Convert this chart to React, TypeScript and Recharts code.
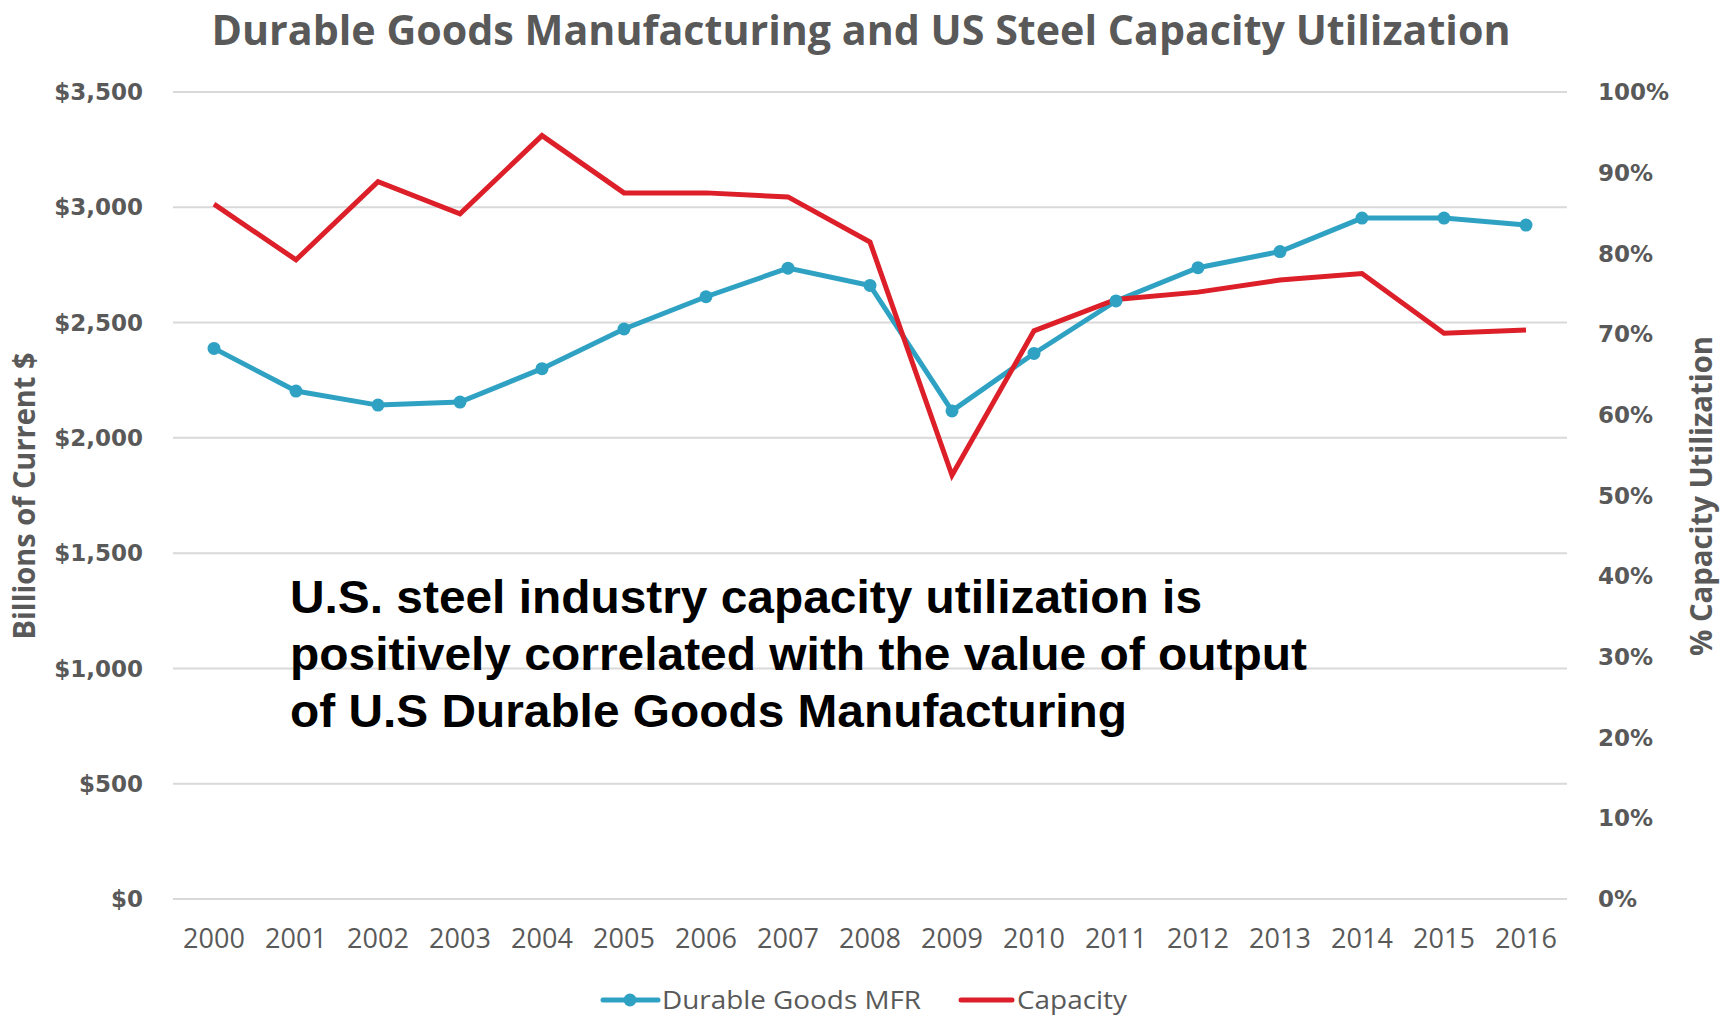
import { CartesianGrid, Line, LineChart, XAxis, YAxis } from 'recharts';

const years = ['2000', '2001', '2002', '2003', '2004', '2005', '2006', '2007', '2008', '2009', '2010', '2011', '2012', '2013', '2014', '2015', '2016'];
// billions of current dollars
const durableGoods = [2388, 2203, 2142, 2155, 2300, 2472, 2612, 2736, 2661, 2117, 2366, 2594, 2738, 2808, 2953, 2953, 2923];
// % capacity utilization
const capacity = [86.1, 79.2, 88.9, 84.9, 94.6, 87.5, 87.5, 87.0, 81.4, 52.5, 70.4, 74.3, 75.2, 76.7, 77.5, 70.1, 70.5];

const dollarTicks = [0, 500, 1000, 1500, 2000, 2500, 3000, 3500];
const percentTicks = [0, 10, 20, 30, 40, 50, 60, 70, 80, 90, 100];

const noteLines = [
  'U.S. steel industry capacity utilization is',
  'positively correlated with the value of output',
  'of U.S Durable Goods Manufacturing',
];

const data = years.map((year, i) => ({ year, durable: durableGoods[i], capacity: capacity[i] }));

const BLUE = '#2FA2C3';
const RED = '#DC1F28';
const GRAY = '#595959';

const tickStyle = { fill: GRAY, fontSize: 23, fontWeight: 700, fontFamily: 'DejaVu Sans' };

export default function App() {
  return (
    <div style={{ position: 'absolute', left: 0, top: 0, width: 1729, height: 1017, background: '#fff' }}>
      <LineChart width={1729} height={1017} data={data} margin={{ top: 92, right: 0, bottom: 0, left: 0 }}>
        <CartesianGrid yAxisId="left" vertical={false} stroke="#D9D9D9" strokeWidth={2} />
        <XAxis
          dataKey="year"
          height={118}
          padding={{ left: 41, right: 41 }}
          tickLine={false}
          axisLine={{ stroke: '#D9D9D9', strokeWidth: 2 }}
          tickSize={0}
          tickMargin={30}
          interval={0}
          tick={{ fill: GRAY, fontSize: 27, fontFamily: 'Open Sans' }}
        />
        <YAxis
          yAxisId="left"
          width={173}
          domain={[0, 3500]}
          ticks={dollarTicks}
          tickFormatter={(v: number) => `$${v.toLocaleString('en-US')}`}
          axisLine={false}
          tickLine={false}
          tickSize={0}
          tickMargin={30}
          tick={tickStyle}
        />
        <YAxis
          yAxisId="right"
          orientation="right"
          width={162}
          domain={[0, 100]}
          ticks={percentTicks}
          tickFormatter={(v: number) => `${v}%`}
          axisLine={false}
          tickLine={false}
          tickSize={0}
          tickMargin={31}
          tick={tickStyle}
        />
        <Line
          yAxisId="left"
          dataKey="durable"
          name="Durable Goods MFR"
          stroke={BLUE}
          strokeWidth={5}
          dot={{ r: 6.5, fill: BLUE, stroke: BLUE, strokeWidth: 0 }}
          isAnimationActive={false}
        />
        <Line
          yAxisId="right"
          dataKey="capacity"
          name="Capacity"
          stroke={RED}
          strokeWidth={5}
          dot={false}
          isAnimationActive={false}
        />
      </LineChart>

      <svg width={1729} height={1017} style={{ position: 'absolute', left: 0, top: 0, pointerEvents: 'none' }}>
        <text x={861} y={45} textAnchor="middle" fill={GRAY} fontFamily="Open Sans" fontWeight={700} fontSize={42}
          textLength={1299} lengthAdjust="spacingAndGlyphs">
          Durable Goods Manufacturing and US Steel Capacity Utilization
        </text>

        <text transform="translate(35 496) rotate(-90)" textAnchor="middle" fill={GRAY} fontFamily="Open Sans"
          fontWeight={700} fontSize={30} textLength={287} lengthAdjust="spacingAndGlyphs">
          Billions of Current $
        </text>
        <text transform="translate(1712 496) rotate(-90)" textAnchor="middle" fill={GRAY} fontFamily="Open Sans"
          fontWeight={700} fontSize={30} textLength={320} lengthAdjust="spacingAndGlyphs">
          % Capacity Utilization
        </text>

        {noteLines.map((line, i) => (
          <text key={line} x={290} y={613 + i * 57} fill="#000" fontFamily="Liberation Sans" fontWeight={700}
            fontSize={47} textLength={[912, 1017, 837][i]} lengthAdjust="spacingAndGlyphs">
            {line}
          </text>
        ))}

        <line x1={603} x2={658} y1={1000} y2={1000} stroke={BLUE} strokeWidth={5} strokeLinecap="round" />
        <circle cx={630} cy={1000} r={6.5} fill={BLUE} />
        <text x={662} y={1009} fill={GRAY} fontFamily="Open Sans" fontSize={26} textLength={259} lengthAdjust="spacingAndGlyphs">
          Durable Goods MFR
        </text>
        <line x1={961} x2={1012} y1={1000} y2={1000} stroke={RED} strokeWidth={5} strokeLinecap="round" />
        <text x={1017} y={1009} fill={GRAY} fontFamily="Open Sans" fontSize={26} textLength={110} lengthAdjust="spacingAndGlyphs">
          Capacity
        </text>
      </svg>
    </div>
  );
}
